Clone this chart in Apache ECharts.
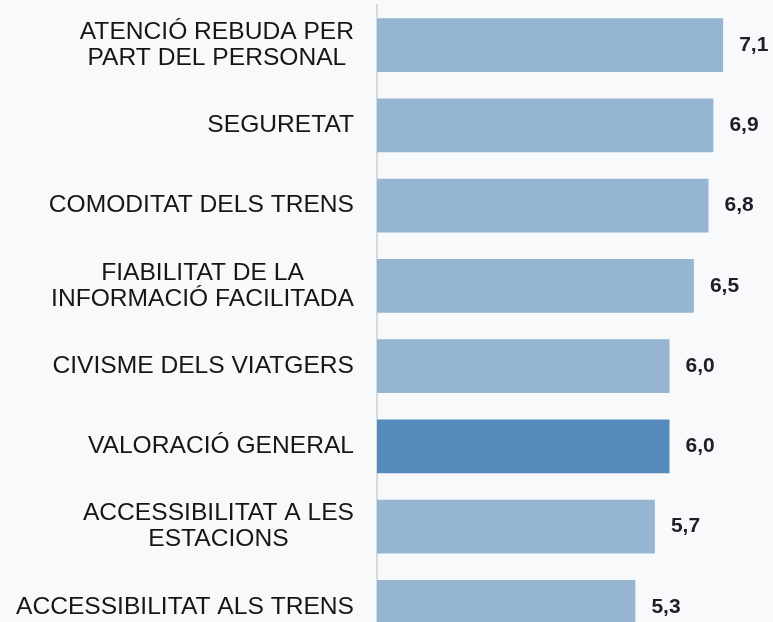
<!DOCTYPE html>
<html>
<head>
<meta charset="utf-8">
<script src="https://cdn.jsdelivr.net/npm/echarts@6/dist/echarts.min.js"></script>
<style>
  html, body { margin: 0; padding: 0; background: #f8f9fb; }
  #chart { width: 773px; height: 622px; }
</style>
</head>
<body>
<div id="chart"></div>
<script>
// Satisfaction scores by aspect (0–10 scale)
const categories = [
  'ATENCIÓ REBUDA PER\nPART DEL PERSONAL',
  'SEGURETAT',
  'COMODITAT DELS TRENS',
  'FIABILITAT DE LA\nINFORMACIÓ FACILITADA',
  'CIVISME DELS VIATGERS',
  'VALORACIÓ GENERAL',
  'ACCESSIBILITAT A LES\nESTACIONS',
  'ACCESSIBILITAT ALS TRENS'
];
const scores = [7.1, 6.9, 6.8, 6.5, 6.0, 6.0, 5.7, 5.3];
const overallCategory = 'VALORACIÓ GENERAL';

const barColor = '#95b5d3';
const overallColor = '#558bba';

const chart = echarts.init(document.getElementById('chart'));

chart.setOption({
  backgroundColor: '#f8f9fb',
  animation: false,
  // the plot runs past the bottom edge, so the last row is cut off
  grid: { left: 377, right: 6, top: 5, height: 642, outerBoundsMode: 'none', containLabel: false },
  xAxis: {
    type: 'value',
    min: 0,
    max: 8,
    show: false
  },
  yAxis: {
    type: 'category',
    inverse: true,
    data: categories,
    axisLine: { show: true, lineStyle: { color: '#d9d9d9', width: 2 } },
    axisTick: { show: false },
    axisLabel: {
      margin: 23,
      formatter: function (v) {
        return v.split('\n').map(function (line) { return '{c|' + line + '}'; }).join('\n');
      },
      rich: {
        c: {
          align: 'center',
          fontFamily: '"Liberation Sans", Arial, sans-serif',
          fontSize: 24.6,
          lineHeight: 26,
          color: '#161616'
        }
      }
    }
  },
  series: [{
    type: 'bar',
    barCategoryGap: '33%',
    data: scores.map(function (v, i) {
      return {
        value: v,
        itemStyle: { color: categories[i] === overallCategory ? overallColor : barColor }
      };
    }),
    label: {
      show: true,
      position: 'right',
      distance: 16,
      fontFamily: '"Liberation Sans", Arial, sans-serif',
      fontSize: 21,
      fontWeight: 'bold',
      color: '#1e1e2a',
      formatter: function (p) { return p.value.toFixed(1).replace('.', ','); }
    }
  }]
});
</script>
</body>
</html>
